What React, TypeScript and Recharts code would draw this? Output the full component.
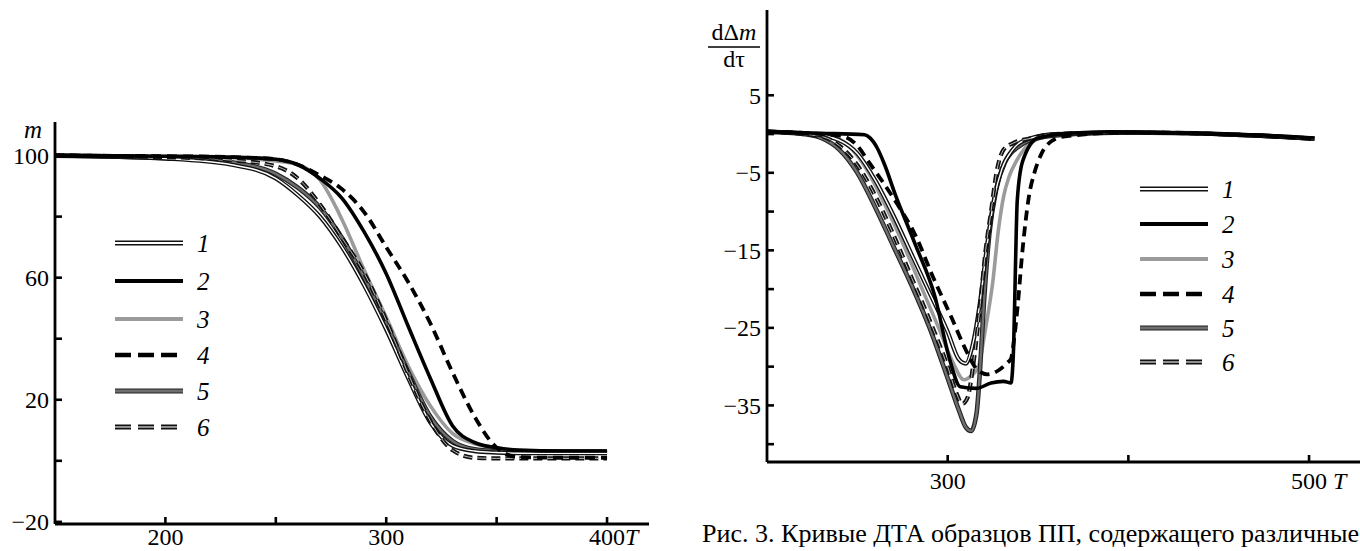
import { LineChart, Line, XAxis, YAxis } from 'recharts';

// TG curves (left): mass m, % vs temperature T
const tgT = [150, 200, 230, 250, 260, 270, 280, 290, 300, 310, 320, 330, 340, 350, 360, 380, 400];
const tg1 = [100, 99, 97, 92.5, 87, 80, 70, 57.5, 43, 27, 12.5, 5, 3.2, 2.7, 2.5, 2.5, 2.5];
const tg2 = [100, 99.8, 99.5, 98.8, 97, 92.5, 86, 75, 61.3, 44, 27, 11.5, 6, 4.3, 3.5, 3.2, 3.2];
const tg3 = [100, 99.7, 99.3, 98.2, 97, 92, 79, 62.5, 47, 31, 18, 9, 5.6, 4.3, 3.3, 3, 3];
const tg4 = [100, 99.8, 99.5, 98.8, 97, 93.5, 89, 81.5, 70, 58.5, 45, 29, 14.5, 4.3, 1.2, 1, 1];
const tg5 = [100, 99.2, 97.8, 94, 89.5, 83, 73, 60, 45, 29, 14.5, 6.5, 3.8, 3.2, 3, 3, 3];
const tg6 = [100, 99.5, 98.5, 96.5, 92.5, 84, 73, 61.5, 46, 28.5, 13, 3.5, 1, 0.8, 0.8, 0.8, 0.8];

// DTA curves (right): d(dm)/dtau vs T
const dta1T = [200, 225, 240, 250, 260, 270, 280, 290, 300, 306, 310, 314, 318, 322, 326, 330, 336, 345, 360, 400, 450, 503];
const dta1 = [0.3, 0, -0.8, -2.5, -6, -10.5, -15.5, -20.5, -25.5, -29, -29.6, -27, -21.5, -14, -8, -4.5, -2, -0.6, 0, 0.2, 0, -0.6];
const dta2T = [200, 230, 254, 257, 261, 265, 271, 282, 293, 301, 307, 316, 324, 331, 335, 336.5, 337.5, 338.5, 341.5, 350, 367, 390, 430, 470, 503];
const dta2 = [0.3, 0.1, -0.1, -0.5, -1.8, -3.9, -7.8, -14.2, -21, -29, -32.6, -32.8, -32.1, -31.9, -32.1, -27.4, -17.2, -8.6, -3.5, -0.5, 0.1, 0.3, 0.1, -0.1, -0.5];
const dta3T = [200, 235, 245, 255, 265, 275, 285, 295, 303, 309, 313, 317, 321, 325, 328, 331, 334, 338, 345, 355, 370, 400, 450, 503];
const dta3 = [0.3, -0.3, -1.5, -4.5, -9, -14, -19.5, -25, -29.5, -31.7, -31.2, -30, -25, -19, -12.5, -8, -5.5, -3.5, -1.3, -0.3, 0, 0.2, 0, -0.6];
const dta4T = [200, 240, 250, 256, 265, 272, 282, 292, 302, 311, 316, 322, 328, 333, 335, 337, 339, 341, 343, 345, 348, 352, 357, 365, 400, 450, 503];
const dta4 = [0.3, -0.2, -1.5, -3.5, -6.5, -9, -13, -18.5, -23.6, -28.3, -30.3, -31, -30.5, -29.5, -29, -26, -21.5, -16, -11.5, -8, -5, -2.5, -1, -0.3, 0.2, 0, -0.6];
const dta5T = [200, 220, 230, 240, 250, 260, 270, 280, 290, 300, 306, 310, 313, 316, 318, 320, 323, 327, 332, 340, 350, 370, 400, 450, 503];
const dta5 = [0.3, 0, -0.5, -2, -5, -9.5, -14.5, -19.5, -25, -31.5, -35.5, -37.8, -38.3, -36, -30, -22, -13, -7, -3.5, -1.5, -0.5, 0, 0.2, 0, -0.6];
const dta6T = [200, 230, 240, 250, 260, 270, 280, 290, 300, 305, 308, 311, 314, 318, 321, 324, 327, 331, 336, 345, 360, 400, 450, 503];
const dta6 = [0.3, -0.3, -1.5, -4, -8, -13, -18.5, -24, -30, -33.5, -34.8, -34, -30, -22, -15, -10, -5, -2, -1.2, -0.6, 0, 0.2, 0, -0.6];

// axes
const mTicks = [100, 80, 60, 40, 20, 0, -20];
const mTickLabels = ['100', '', '60', '', '20', '', '−20'];
const tgXTicks = [200, 250, 300, 350, 400];
const tgXLabels = ['200', '', '300', '', '400'];
const dtaYTicks = [5, 0, -5, -10, -15, -20, -25, -30, -35, -40];
const dtaYLabels = ['5', '', '−5', '', '−15', '', '−25', '', '−35', ''];
const dtaXTicks = [300, 400, 500];
const dtaXLabels = ['300', '', '500'];

const seriesNames = ['1', '2', '3', '4', '5', '6'];
const drawOrder = ['3', '5', '1', '6', '4', '2'];

const serif = '"Liberation Serif", "Times New Roman", Times, serif';

type Layer = { stroke: string; width: number; dash?: string };
const styles: Record<string, Layer[]> = {
  '1': [{ stroke: '#111', width: 4.2 }, { stroke: '#fff', width: 1.4 }],
  '2': [{ stroke: '#000', width: 3.6 }],
  '3': [{ stroke: '#9b9b9b', width: 3.6 }],
  '4': [{ stroke: '#000', width: 3.8, dash: '10 6' }],
  '5': [{ stroke: '#222', width: 4.6 }, { stroke: '#6e6e6e', width: 2.4 }],
  '6': [{ stroke: '#111', width: 4.2, dash: '9 5' }, { stroke: '#bbb', width: 1, dash: '9 5' }],
};

const pts = (ts: number[], vs: number[]) => ts.map((t, i) => ({ t, v: vs[i] }));

const tgSeries: Record<string, { t: number; v: number }[]> = {
  '1': pts(tgT, tg1), '2': pts(tgT, tg2), '3': pts(tgT, tg3),
  '4': pts(tgT, tg4), '5': pts(tgT, tg5), '6': pts(tgT, tg6),
};
const dtaSeries: Record<string, { t: number; v: number }[]> = {
  '1': pts(dta1T, dta1), '2': pts(dta2T, dta2), '3': pts(dta3T, dta3),
  '4': pts(dta4T, dta4), '5': pts(dta5T, dta5), '6': pts(dta6T, dta6),
};

const labelFor = (ticks: number[], labels: string[], v: number) => {
  const i = ticks.indexOf(v);
  return i >= 0 ? labels[i] : '';
};

function YTick(props: any) {
  const { x, y, payload, ticks, labels } = props;
  const lab = labelFor(ticks, labels, payload.value);
  return (
    <g>
      <line x1={x} x2={x + 7} y1={y} y2={y} stroke="#000" strokeWidth={2.6} />
      {lab && (
        <text x={x - 6} y={y} dy="0.35em" textAnchor="end" fontFamily={serif} fontSize={24} fill="#000">
          {lab}
        </text>
      )}
    </g>
  );
}

function XTick(props: any) {
  const { x, y, payload, ticks, labels, lastT, gap } = props;
  const lab = labelFor(ticks, labels, payload.value);
  const isLast = payload.value === ticks[ticks.length - 1];
  return (
    <g>
      <line x1={x} x2={x} y1={y} y2={y - 7} stroke="#000" strokeWidth={2.6} />
      {lab && (
        <text x={x} y={y + lastT} textAnchor="middle" fontFamily={serif} fontSize={24} fill="#000">
          {lab}
        </text>
      )}
      {lab && isLast && (
        <text x={x + 18 + gap} y={y + lastT} textAnchor="start" fontFamily={serif} fontStyle="italic" fontSize={24} fill="#000">
          T
        </text>
      )}
    </g>
  );
}

function renderLines(series: Record<string, { t: number; v: number }[]>) {
  return drawOrder.flatMap((k) =>
    styles[k].map((s, j) => (
      <Line
        key={k + '-' + j}
        data={series[k]}
        dataKey="v"
        type="monotone"
        stroke={s.stroke}
        strokeWidth={s.width}
        strokeDasharray={s.dash}
        dot={false}
        activeDot={false}
        isAnimationActive={false}
      />
    ))
  );
}

function LegendBlock({ x, y0, rows }: { x: number; y0: number[]; rows: string[] }) {
  return (
    <g>
      {rows.map((k, i) => (
        <g key={k}>
          {styles[k].map((s, j) => (
            <line
              key={j}
              x1={x}
              x2={x + 68}
              y1={y0[i]}
              y2={y0[i]}
              stroke={s.stroke}
              strokeWidth={s.width + 0.6}
              strokeDasharray={s.dash ? '16 7' : undefined}
            />
          ))}
          <text x={x + 82} y={y0[i]} dy="0.35em" fontFamily={serif} fontStyle="italic" fontSize={25} fill="#000">
            {k}
          </text>
        </g>
      ))}
    </g>
  );
}

export default function App() {
  return (
    <div style={{ position: 'absolute', left: 0, top: 0, width: 1360, height: 551, background: '#fff', overflow: 'hidden' }}>
      <div style={{ position: 'absolute', left: 0, top: 0 }}>
        <LineChart width={700} height={551} margin={{ top: 122, right: 51, bottom: 2, left: 5 }}>
          <XAxis
            dataKey="t"
            type="number"
            domain={[150, 419]}
            allowDataOverflow
            ticks={tgXTicks}
            interval={0}
            height={25}
            tickSize={0}
            tickMargin={0}
            tickLine={false}
            axisLine={{ stroke: '#000', strokeWidth: 2.8 }}
            tick={(p: any) => <XTick {...p} ticks={tgXTicks} labels={tgXLabels} lastT={21} gap={0} />}
          />
          <YAxis
            type="number"
            domain={[-20.7, 111]}
            allowDataOverflow
            ticks={mTicks}
            interval={0}
            width={50}
            tickSize={0}
            tickMargin={0}
            tickLine={false}
            axisLine={{ stroke: '#000', strokeWidth: 2.8 }}
            tick={(p: any) => <YTick {...p} ticks={mTicks} labels={mTickLabels} />}
          />
          {renderLines(tgSeries)}
        </LineChart>
      </div>

      <div style={{ position: 'absolute', left: 690, top: 0 }}>
        <LineChart width={670} height={551} margin={{ top: 10, right: 0, bottom: 59, left: 27 }}>
          <XAxis
            dataKey="t"
            type="number"
            domain={[200, 528.2]}
            allowDataOverflow
            ticks={dtaXTicks}
            interval={0}
            height={30}
            tickSize={0}
            tickMargin={0}
            tickLine={false}
            axisLine={{ stroke: '#000', strokeWidth: 2.8 }}
            tick={(p: any) => <XTick {...p} ticks={dtaXTicks} labels={dtaXLabels} lastT={27} gap={6} />}
          />
          <YAxis
            type="number"
            domain={[-42.3, 16]}
            allowDataOverflow
            ticks={dtaYTicks}
            interval={0}
            width={50}
            tickSize={0}
            tickMargin={0}
            tickLine={false}
            axisLine={{ stroke: '#000', strokeWidth: 2.8 }}
            tick={(p: any) => <YTick {...p} ticks={dtaYTicks} labels={dtaYLabels} />}
          />
          {renderLines(dtaSeries)}
        </LineChart>
      </div>

      <svg width={1360} height={551} style={{ position: 'absolute', left: 0, top: 0, pointerEvents: 'none' }}>
        <text x={33} y={138} textAnchor="middle" fontFamily={serif} fontStyle="italic" fontSize={25} fill="#000">
          m
        </text>
        <text x={734} y={40} textAnchor="middle" fontFamily={serif} fontSize={24} fill="#000">
          dΔ<tspan fontStyle="italic">m</tspan>
        </text>
        <line x1={708} x2={760} y1={47} y2={47} stroke="#000" strokeWidth={1.6} />
        <text x={734} y={67} textAnchor="middle" fontFamily={serif} fontSize={24} fill="#000">
          dτ
        </text>
        <LegendBlock x={115} y0={[243, 281, 319, 355, 391, 427]} rows={seriesNames} />
        <LegendBlock x={1140} y0={[189, 224, 259, 294, 328, 362]} rows={seriesNames} />
        <text x={702} y={542} fontFamily={serif} fontSize={25} fill="#000" textLength={657} lengthAdjust="spacingAndGlyphs">
          Рис. 3. Кривые ДТА образцов ПП, содержащего различные
        </text>
      </svg>
    </div>
  );
}
